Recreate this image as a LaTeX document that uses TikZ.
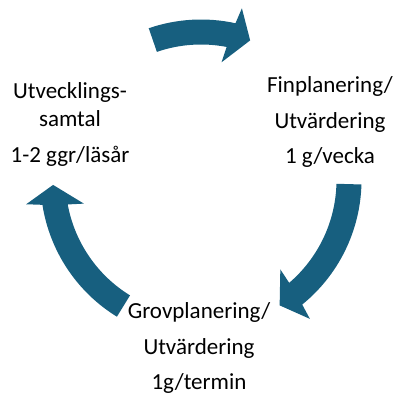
\documentclass[tikz,border=0pt]{standalone}
\usepackage{fontspec}
\setmainfont{Carlito}
\usepackage{tikz}
\usetikzlibrary{positioning}

\tikzset{
  cyclefill/.style={fill=arrowBlue, draw=none},
  steptext/.style={align=center, font=\fontsize{23}{35.5}\selectfont, inner sep=0pt}
}

% one block arrow of the cycle: tail angle, tip angle (clockwise)
\newcommand{\cyclearrow}[2]{%
  \fill[cyclefill] (#1:\outerR) arc[start angle=#1, end angle=#2+7, radius=\outerR]
    -- ({#2+6}:\barbOut) -- (#2:\midR) -- ({#2+9.5}:\barbIn) -- ({#2+8.5}:\innerR)
    arc[start angle=#2+8.5, end angle=#1, radius=\innerR] -- cycle;}

\begin{document}
\begin{tikzpicture}[x=1pt, y=1pt]
  \definecolor{arrowBlue}{RGB}{23,95,127}
  \useasboundingbox (0,0) rectangle (399,394);

  \pgfmathsetmacro{\midR}{148};
  \pgfmathsetmacro{\outerR}{\midR+12.5};
  \pgfmathsetmacro{\innerR}{\midR-12.5};
  \pgfmathsetmacro{\barbOut}{\midR+28.5};
  \pgfmathsetmacro{\barbIn}{\midR-28.5};

  \begin{scope}[shift={(201,214)}]
    \cyclearrow{109}{70.6}
    \cyclearrow{-1.6}{-57.9}
    \cyclearrow{238.4}{181.9}
  \end{scope}

  \node[steptext] (samtal) at (70,270) {Utvecklings-\\[-7pt]samtal\\1-2 ggr/läsår};
  \node[steptext] (fin) at (330,272) {Finplanering/\\Utvärdering\\1 g/vecka};
  \node[steptext] (grov) at (199,46) {Grovplanering/\\Utvärdering\\1g/termin};
\end{tikzpicture}
\end{document}
